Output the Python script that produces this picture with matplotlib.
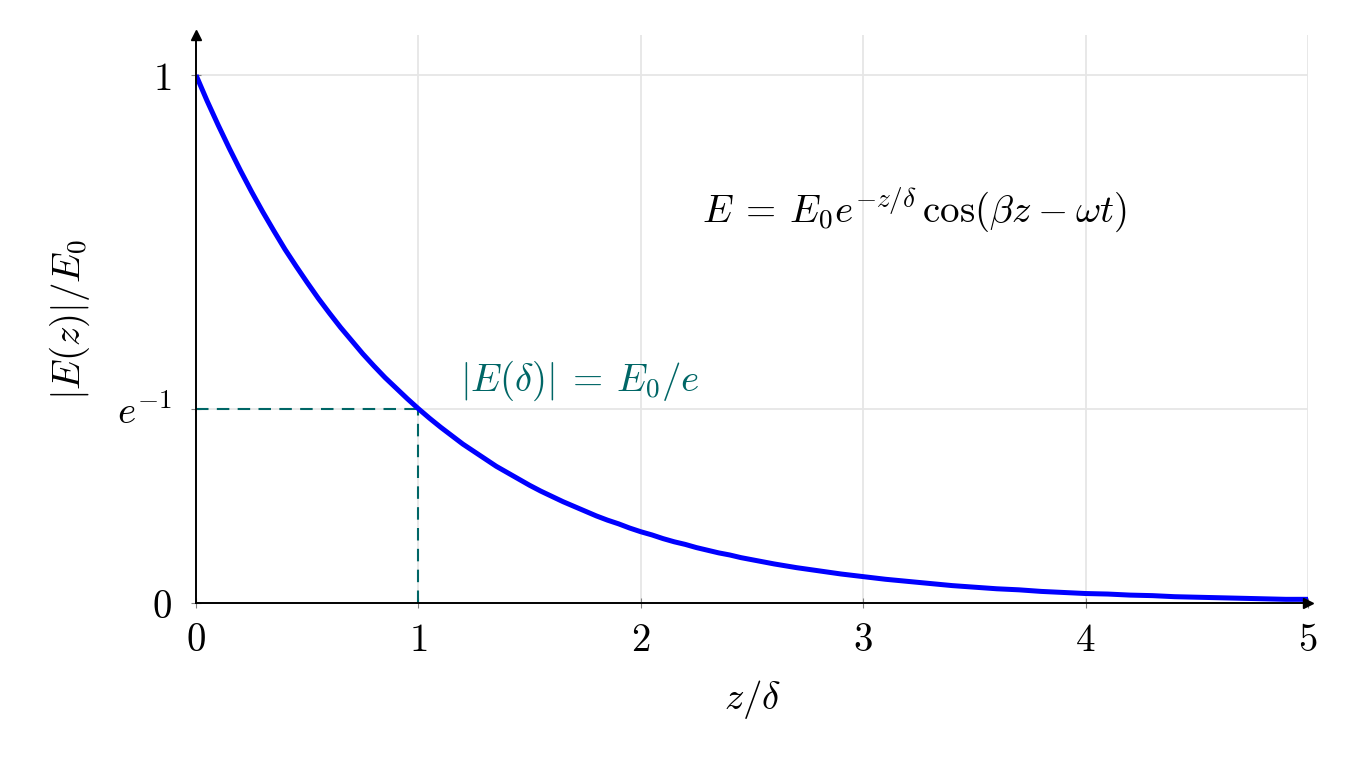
import matplotlib.pyplot as plt

plt.rcParams['mathtext.fontset'] = 'cm'
plt.rcParams['font.family'] = 'serif'
plt.rcParams['font.serif'] = ['DejaVu Serif']

# field amplitude |E(z)|/E0, z/delta from 0 to 5
z = [0.0, 0.05, 0.1, 0.15, 0.2, 0.25, 0.3, 0.35, 0.4, 0.45,
     0.5, 0.55, 0.6, 0.65, 0.7, 0.75, 0.8, 0.85, 0.9, 0.95,
     1.0, 1.05, 1.1, 1.15, 1.2, 1.25, 1.3, 1.35, 1.4, 1.45,
     1.5, 1.55, 1.6, 1.65, 1.7, 1.75, 1.8, 1.85, 1.9, 1.95,
     2.0, 2.05, 2.1, 2.15, 2.2, 2.25, 2.3, 2.35, 2.4, 2.45,
     2.5, 2.6, 2.7, 2.8, 2.9,
     3.0, 3.1, 3.2, 3.3, 3.4, 3.5, 3.6, 3.7, 3.8, 3.9,
     4.0, 4.1, 4.2, 4.3, 4.4, 4.5, 4.6, 4.7, 4.8, 4.9, 5.0]
amp = [1.000, 0.951, 0.905, 0.861, 0.819, 0.779, 0.741, 0.705, 0.670, 0.638,
       0.607, 0.577, 0.549, 0.522, 0.497, 0.472, 0.449, 0.427, 0.407, 0.387,
       0.368, 0.350, 0.333, 0.317, 0.301, 0.287, 0.273, 0.259, 0.247, 0.235,
       0.223, 0.212, 0.202, 0.192, 0.183, 0.174, 0.165, 0.157, 0.150, 0.142,
       0.135, 0.129, 0.122, 0.116, 0.111, 0.105, 0.100, 0.095, 0.091, 0.086,
       0.082, 0.074, 0.067, 0.061, 0.055,
       0.050, 0.045, 0.041, 0.037, 0.033, 0.030, 0.027, 0.025, 0.022, 0.020,
       0.018, 0.017, 0.015, 0.014, 0.012, 0.011, 0.010, 0.009, 0.008, 0.007, 0.007]

skin_z = 1.0
skin_amp = 0.368
x_ticks = [0, 1, 2, 3, 4, 5]
x_labels = ['$0$', '$1$', '$2$', '$3$', '$4$', '$5$']
y_ticks = [0, 0.368, 1]
y_labels = ['$0$', '$e^{-1}$', '$1$']

teal = '#006666'
fs = 28

fig = plt.figure(figsize=(13.65, 7.64), dpi=100)
ax = fig.add_axes([0.1436, 0.2107, 0.8147, 0.7435])

ax.plot(z, amp, color='#0000ff', lw=3.6, solid_joinstyle='round',
        solid_capstyle='butt', zorder=4)
ax.plot([0, skin_z], [skin_amp, skin_amp], color=teal, lw=1.5, ls=(0, (6, 4)), zorder=3)
ax.plot([skin_z, skin_z], [0, skin_amp], color=teal, lw=1.5, ls=(0, (6, 4)), zorder=3)

ax.text(1.185, 0.42, r'$|E(\delta)|\:=\:E_0/e$', color=teal, fontsize=fs,
        ha='left', va='center')
ax.text(3.23, 0.744, r'$E\:=\:E_0 e^{-z/\delta}\,\cos(\beta z\:-\:\omega t)$',
        color='black', fontsize=fs, ha='center', va='center')

ax.set_xlim(0, 5)
ax.set_ylim(0, 1.076)
ax.set_xticks(x_ticks)
ax.set_xticklabels(x_labels, fontsize=fs)
ax.set_yticks(y_ticks)
ax.set_yticklabels(y_labels, fontsize=fs)
ax.tick_params(direction='inout', length=7, width=0.8, color='#808080')
ax.tick_params(axis='x', pad=10)
ax.tick_params(axis='y', pad=14)
ax.grid(True, color='#e6e6e6', lw=1.3)
ax.set_axisbelow(True)

for side in ['top', 'right']:
    ax.spines[side].set_visible(False)
for side in ['left', 'bottom']:
    ax.spines[side].set_linewidth(1.4)
    ax.spines[side].set_zorder(5)

# arrow heads on the axes
ax.plot(1, 0, marker='>', color='black', ms=7, transform=ax.transAxes,
        clip_on=False, zorder=6)
ax.plot(0, 1, marker='^', color='black', ms=7, transform=ax.transAxes,
        clip_on=False, zorder=6)

ax.set_xlabel(r'$z/\delta$', fontsize=fs, labelpad=14)
ax.set_ylabel(r'$|E(z)|/E_0$', fontsize=fs, labelpad=18)

fig.savefig('out.png', dpi=100)
